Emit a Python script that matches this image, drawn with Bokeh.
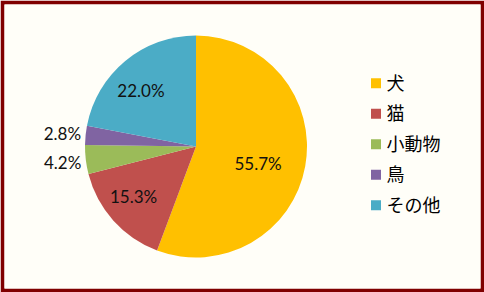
import numpy as np
from bokeh.plotting import figure
from bokeh.models import Range1d, ColumnDataSource
from bokeh.core.properties import value
from bokeh.embed import file_html
from bokeh.resources import INLINE

categories = ["犬", "猫", "小動物", "鳥", "その他"]
shares = [55.7, 15.3, 4.2, 2.8, 22.0]
colors = ["#FFC000", "#C0504D", "#9BBB59", "#8064A2", "#4BACC6"]
labels = ["55.7%", "15.3%", "4.2%", "2.8%", "22.0%"]

# label placement (layout only): radius factor and angular nudge per slice
label_rf = [0.58, 0.72, 1.21, 1.21, 0.707]
label_dtheta = [-0.088, -0.057, 0.0, 0.0, 0.086]

W, H = 484, 292
p = figure(width=W, height=H, output_backend="svg", toolbar_location=None,
           x_range=Range1d(4, W - 4), y_range=Range1d(4, H - 4),
           min_border=4, border_fill_color="#800000",
           background_fill_color="#FFFEF8", outline_line_color=None)
p.axis.visible = False
p.grid.visible = False

cx, cy, R = 195.5, 146.0, 111.0
frac = np.array(shares) / sum(shares)
cum = np.concatenate([[0], np.cumsum(frac)])
start = np.pi / 2 - 2 * np.pi * cum[:-1]
end = np.pi / 2 - 2 * np.pi * cum[1:]
mid = (start + end) / 2

src = ColumnDataSource(dict(start=start, end=end, color=colors, cat=categories))
p.wedge(x=cx, y=cy, radius=R, start_angle="start", end_angle="end",
        direction="clock", fill_color="color", line_color=None, source=src)

rf = np.array(label_rf)
ang = mid + np.array(label_dtheta)
lx = cx + rf * R * np.cos(ang)
ly = cy + rf * R * np.sin(ang)
p.text(x=lx, y=ly, text=labels, text_align="center", text_baseline="middle",
       text_font=value("Lato"), text_font_size="17px", text_color="#111111")

rows = H - (82.7 + 30.5 * np.arange(len(categories)))
p.scatter(x=375.5, y=rows, marker="square", size=10, fill_color=colors, line_color=None)
p.text(x=386, y=rows + 1.5, text=categories, text_align="left", text_baseline="middle",
       text_font=value("Noto Sans CJK JP"), text_font_size="18px", text_color="#000000")

open("out.html", "w").write(file_html(p, INLINE))
